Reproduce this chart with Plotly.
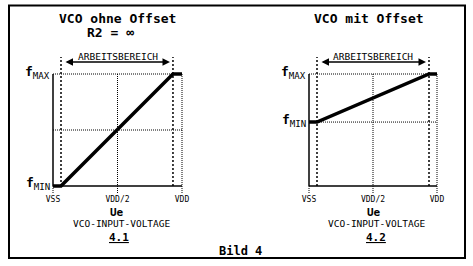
import plotly.graph_objects as go

W, H = 473, 266
MONO = "DejaVu Sans Mono"

# ---- data ----
tick_vals = [0.0, 0.5, 1.0]
tick_text = ["VSS", "VDD/2", "VDD"]

# Bild 4.1: VCO ohne Offset (normalised input voltage -> normalised frequency)
c1_x = [0.0, 0.062, 0.930, 1.0]
c1_y = [0.0, 0.0, 1.0, 1.0]
c1_fmin = 0.0
# Bild 4.2: VCO mit Offset
c2_x = [0.0, 0.0625, 0.9375, 1.0]
c2_y = [0.571, 0.571, 1.0, 1.0]
c2_fmin = 0.571

titles = ["<b>VCO ohne Offset</b>", "<b>VCO mit Offset</b>"]
subtitle1 = "<b>R2 = ∞</b>"
range_label = "ARBEITSBEREICH"
x_title = "<b>Ue</b>"
x_sub = "VCO-INPUT-VOLTAGE"
numbers = ["<b><u>4.1</u></b>", "<b><u>4.2</u></b>"]
caption = "<b>Bild 4</b>"

# ---- geometry (pixels) ----
charts = [
    dict(x=c1_x, y=c1_y, fmin=c1_fmin, vss=53, vdd=182, mid_line=0.5),
    dict(x=c2_x, y=c2_y, fmin=c2_fmin, vss=309, vdd=437, mid_line=None),
]
Y0PX, Y1PX = 186, 74          # value 0 / value 1 in pixels
YBOT, YTOP = 193, 48          # domain extent in pixels
yspan = Y0PX - Y1PX


def px(xp):
    return xp / W


def py(yp):
    return 1 - yp / H


fig = go.Figure()
shapes = []
annotations = []

for i, c in enumerate(charts):
    k = "" if i == 0 else str(i + 1)
    xa, ya = "x" + k, "y" + k
    span = c["vdd"] - c["vss"]
    fig.add_trace(go.Scatter(
        x=c["x"], y=c["y"], mode="lines",
        line=dict(color="black", width=3.5),
        xaxis=xa, yaxis=ya, showlegend=False, hoverinfo="skip"))

    fig.update_layout(**{
        "xaxis" + k: dict(
            domain=[px(c["vss"] - 8), px(c["vdd"] + 8)],
            range=[-8 / span, 1 + 8 / span],
            tickvals=tick_vals, ticktext=tick_text, ticks="",
            showgrid=False, zeroline=False, showline=False,
            tickfont=dict(family=MONO, size=8, color="black"),
            anchor=ya, fixedrange=True),
        "yaxis" + k: dict(
            domain=[py(YBOT), py(YTOP)],
            range=[(Y0PX - YBOT) / yspan, (Y0PX - YTOP) / yspan],
            visible=False, anchor=xa, fixedrange=True),
    })

    ybot = (Y0PX - YBOT) / yspan
    ydash_top = (Y0PX - 57) / yspan
    yarrow = (Y0PX - 62) / yspan
    solid = dict(color="black", width=1.5)
    dotted = dict(color="black", width=1, dash="1px,1px")
    dashed = dict(color="black", width=1.5, dash="2px,2px")
    ref = dict(xref=xa, yref=ya, type="line", layer="below")
    # axes
    shapes.append(dict(**ref, x0=0, x1=0, y0=0, y1=1, line=solid))
    shapes.append(dict(**ref, x0=0, x1=1, y0=0, y1=0, line=solid))
    # dotted helpers
    shapes.append(dict(**ref, x0=0, x1=1, y0=1, y1=1, line=dotted))
    if c["mid_line"] is not None:
        shapes.append(dict(**ref, x0=0, x1=1, y0=c["mid_line"], y1=c["mid_line"], line=dotted))
    if c["fmin"] > 0:
        shapes.append(dict(**ref, x0=0, x1=1, y0=c["fmin"], y1=c["fmin"], line=dotted))
    shapes.append(dict(**ref, x0=0.5, x1=0.5, y0=ybot, y1=1, line=dotted))
    shapes.append(dict(**ref, x0=1, x1=1, y0=ybot, y1=1, line=dotted))
    shapes.append(dict(**ref, x0=0, x1=0, y0=ybot, y1=0, line=dotted))
    # working range dashed
    for xv in (c["x"][1], c["x"][2]):
        shapes.append(dict(**ref, x0=xv, x1=xv, y0=0, y1=ydash_top, line=dashed))
    # arrow
    pad = 3 / span
    annotations.append(dict(
        xref=xa, yref=ya, axref=xa, ayref=ya,
        x=c["x"][2] - pad, y=yarrow, ax=c["x"][1] + pad, ay=yarrow,
        text="", showarrow=True, arrowhead=2, arrowside="end+start",
        arrowsize=1, arrowwidth=1.5, arrowcolor="black"))
    annotations.append(dict(
        xref=xa, yref=ya, x=0.5, y=(Y0PX - 56.5) / yspan, text=range_label,
        showarrow=False, font=dict(family=MONO, size=9.5, color="black"),
        xanchor="center", yanchor="middle"))


def label(text, xp, yp, size, anchor="center"):
    annotations.append(dict(
        xref="paper", yref="paper", x=px(xp), y=py(yp), text=text,
        showarrow=False, xanchor=anchor, yanchor="middle", borderpad=0,
        font=dict(family=MONO, size=size, color="black")))


label(titles[0], 117, 19, 13)
label(subtitle1, 110, 32, 13)
label(titles[1], 368.5, 19, 13)

fmax = "<b>f</b><sub>MAX</sub>"
fmin = "<b>f</b><sub>MIN</sub>"
label(fmax, 51, 72, 13, "right")
label(fmin, 51, 183, 13, "right")
label(fmax, 307, 72, 13, "right")
label(fmin, 307, 120, 13, "right")

label(x_title, 117, 212, 11)
label(x_sub, 122, 223.5, 9.5)
label(numbers[0], 119, 237, 11)
label(x_title, 373.5, 212, 11)
label(x_sub, 377, 223.5, 9.5)
label(numbers[1], 376, 237, 11)
label(caption, 240, 250.5, 12)

# outer frame
shapes.append(dict(type="rect", xref="paper", yref="paper",
                   x0=px(9), x1=px(465), y0=py(258), y1=py(5.5),
                   line=dict(color="black", width=2)))

fig.update_layout(
    width=W, height=H, autosize=False,
    margin=dict(l=0, r=0, t=0, b=0),
    paper_bgcolor="white", plot_bgcolor="white",
    shapes=shapes, annotations=annotations,
    showlegend=False,
)

fig.write_html("out.html", config={"displayModeBar": False})
